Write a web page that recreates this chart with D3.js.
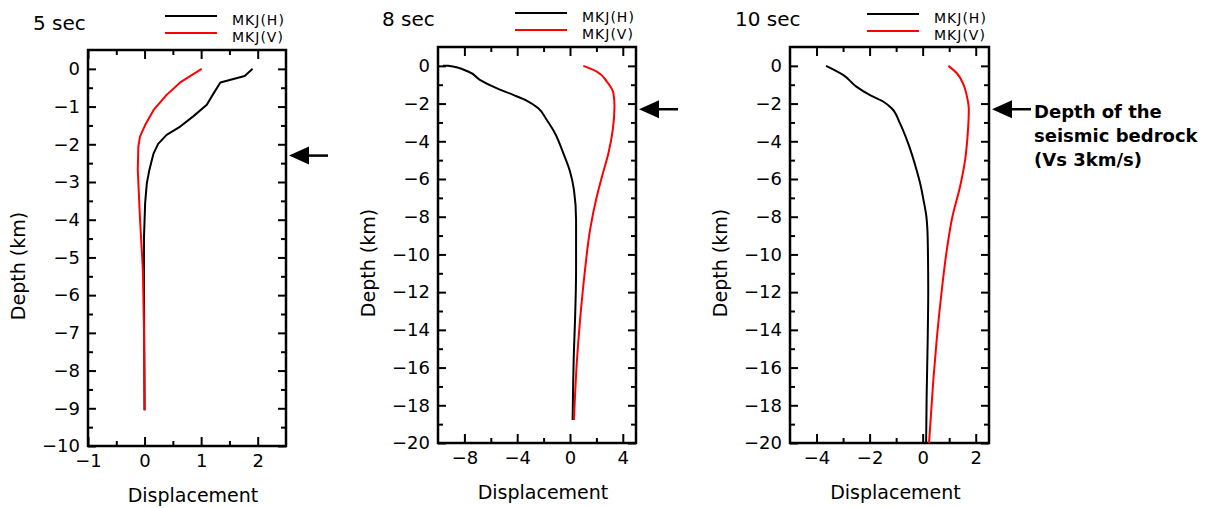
<!DOCTYPE html>
<html>
<head>
<meta charset="utf-8">
<script src="https://cdn.jsdelivr.net/npm/d3@7"></script>
<style>
  body { margin: 0; background: #fff; }
  svg text { font-family: "DejaVu Sans", sans-serif; fill: #000; }
</style>
</head>
<body>
<div id="chart"></div>
<script>
// displacement vs depth, [displacement, depth(km)]
const h5 = [[1.91,0],[1.77,-0.19],[1.34,-0.36],[1.22,-0.65],[1.10,-0.95],[0.86,-1.26],[0.63,-1.53],[0.39,-1.75],[0.24,-1.99],[0.16,-2.24],[0.13,-2.41],[0.085,-2.68],[0.04,-3.03],[0.01,-3.56],[-0.01,-4.45],[-0.01,-6],[0,-9.05]]
const v5 = [[1.01,0],[0.84,-0.16],[0.63,-0.36],[0.39,-0.69],[0.16,-1.09],[0.01,-1.49],[-0.08,-1.79],[-0.11,-2.06],[-0.12,-2.68],[-0.08,-4.0],[-0.03,-5.33],[-0.01,-6.92],[0,-9.05]]

const h8 = [[-9.62,0],[-9.24,0],[-7.72,-0.3],[-6.83,-0.74],[-5.57,-1.18],[-4.30,-1.54],[-3.29,-1.84],[-2.40,-2.25],[-1.77,-2.86],[-1.14,-3.57],[-0.51,-4.63],[0,-5.6],[0.30,-6.58],[0.46,-8.17],[0.46,-10.8],[0.38,-13.5],[0.30,-15.07],[0.2,-18.78]]
const v8 = [[1.01,0],[2.03,-0.3],[2.79,-0.83],[3.29,-1.45],[3.37,-2.16],[3.24,-3.40],[2.91,-4.63],[2.45,-5.8],[2.03,-6.93],[1.52,-8.7],[1.14,-10.8],[0.76,-13.5],[0.51,-15.8],[0.30,-18.78]]

const h10 = [[-3.64,0],[-3.0,-0.48],[-2.5,-1.1],[-2.0,-1.54],[-1.49,-1.89],[-1.17,-2.25],[-0.86,-3.04],[-0.55,-4.1],[-0.23,-5.52],[-0.1,-6.2],[0.03,-7.1],[0.14,-8.0],[0.19,-9.2],[0.21,-11.9],[0.19,-14.5],[0.15,-17.5],[0.13,-20]]
const v10 = [[0.97,0],[1.29,-0.39],[1.54,-1.0],[1.67,-1.63],[1.74,-2.33],[1.70,-3.57],[1.6,-4.99],[1.41,-6.4],[1.12,-8.0],[0.91,-9.76],[0.72,-11.9],[0.53,-14.5],[0.40,-16.7],[0.24,-20]]

const titles = ['5 sec', '8 sec', '10 sec']
const seriesNames = ['MKJ(H)', 'MKJ(V)']
const seriesColors = ['#000', '#ff0000']
const bedrockDepth = -2.3
const noteLines = ['Depth of the', 'seismic bedrock', '(Vs 3km/s)']

const xTicks5 = [-1, 0, 1, 2], xMinor5 = [-0.5, 0.5, 1.5]
const yTicks5 = d3.range(-10, 0.5, 1), yMinor5 = d3.range(-9.5, 0.5, 1)
const xTicks8 = [-8, -4, 0, 4], xMinor8 = [-6, -2, 2]
const yTicks8 = d3.range(-20, 1, 2), yMinor8 = d3.range(-19, 1, 2)
const xTicks10 = [-4, -2, 0, 2], xMinor10 = [-3, -1, 1]
const yTicks10 = d3.range(-20, 1, 2), yMinor10 = d3.range(-19, 1, 2)

const panels = [
  {title: titles[0], h: h5, v: v5, xd: [-1, 2.5], yd: [-10, 0.5], xt: xTicks5, xm: xMinor5, yt: yTicks5, ym: yMinor5,
   box: {l: 88, r: 286, t: 50, b: 446}, titleX: 33, titleY: 30, legX: 165, legY: 16, curve: d3.curveLinear},
  {title: titles[1], h: h8, v: v8, xd: [-10, 5], yd: [-20, 1], xt: xTicks8, xm: xMinor8, yt: yTicks8, ym: yMinor8,
   box: {l: 438, r: 636, t: 47, b: 443}, titleX: 382, titleY: 26, legX: 515, legY: 13, curve: d3.curveMonotoneY},
  {title: titles[2], h: h10, v: v10, xd: [-5, 2.5], yd: [-20, 1], xt: xTicks10, xm: xMinor10, yt: yTicks10, ym: yMinor10,
   box: {l: 790, r: 989, t: 47, b: 443}, titleX: 735, titleY: 26, legX: 867, legY: 14, curve: d3.curveMonotoneY}
]

const svg = d3.select('#chart').append('svg')
  .attr('width', 1213)
  .attr('height', 508)

panels.forEach((p, i) => drawPanel(p, i === panels.length - 1))

function drawPanel(p, withNote) {
  let {l, r, t, b} = p.box
  let x = d3.scaleLinear().domain(p.xd).range([l, r])
  let y = d3.scaleLinear().domain(p.yd).range([b, t])
  let g = svg.append('g')

  // axes: major ticks labelled, minor ticks bare, all pointing inward
  let fmt = d3.format('')
  let axes = [
    [d3.axisBottom(x).tickValues(p.xt).tickFormat(fmt).tickSize(-9), `translate(0,${b})`],
    [d3.axisBottom(x).tickValues(p.xm).tickFormat('').tickSize(-5), `translate(0,${b})`],
    [d3.axisTop(x).tickValues(p.xt).tickFormat('').tickSize(-9), `translate(0,${t})`],
    [d3.axisTop(x).tickValues(p.xm).tickFormat('').tickSize(-5), `translate(0,${t})`],
    [d3.axisLeft(y).tickValues(p.yt).tickFormat(fmt).tickSize(-8), `translate(${l},0)`],
    [d3.axisLeft(y).tickValues(p.ym).tickFormat('').tickSize(-5), `translate(${l},0)`],
    [d3.axisRight(y).tickValues(p.yt).tickFormat('').tickSize(-8), `translate(${r},0)`],
    [d3.axisRight(y).tickValues(p.ym).tickFormat('').tickSize(-5), `translate(${r},0)`]
  ]
  axes.forEach(([ax, tr]) => {
    let a = g.append('g').attr('transform', tr).call(ax.tickPadding(8))
    a.select('.domain').remove()
    a.selectAll('line').attr('stroke', '#000').attr('stroke-width', 2)
    a.selectAll('text').attr('font-size', 18).attr('font-family', '"DejaVu Sans", sans-serif').attr('fill', '#000')
  })

  g.append('rect')
    .attr('x', l).attr('y', t)
    .attr('width', r - l).attr('height', b - t)
    .attr('fill', 'none').attr('stroke', '#000').attr('stroke-width', 2.5)

  let line = d3.line().x(d => x(d[0])).y(d => y(d[1])).curve(p.curve)
  ;[p.h, p.v].forEach((s, k) => {
    g.append('path')
      .datum(s)
      .attr('d', line)
      .attr('fill', 'none')
      .attr('stroke', seriesColors[k])
      .attr('stroke-width', 2)
      .attr('stroke-linejoin', 'round')
  })

  // title + legend
  g.append('text').attr('x', p.titleX).attr('y', p.titleY).attr('font-size', 20).text(p.title)
  seriesNames.forEach((name, k) => {
    let ly = p.legY + k * 17
    g.append('line')
      .attr('x1', p.legX).attr('x2', p.legX + 52)
      .attr('y1', ly).attr('y2', ly)
      .attr('stroke', seriesColors[k]).attr('stroke-width', 2)
    g.append('text')
      .attr('x', p.legX + 67).attr('y', ly + 9)
      .attr('font-size', 14).attr('letter-spacing', 1)
      .text(name)
  })

  // axis labels
  g.append('text')
    .attr('x', (l + r) / 2 + 6).attr('y', b + 56)
    .attr('text-anchor', 'middle').attr('font-size', 19)
    .text('Displacement')
  g.append('text')
    .attr('transform', `translate(${l - 63},${(t + b) / 2 + 18}) rotate(-90)`)
    .attr('text-anchor', 'middle').attr('font-size', 19)
    .text('Depth (km)')

  // bedrock arrow
  let ay = y(bedrockDepth)
  let ax0 = r + 3
  g.append('path')
    .attr('d', `M ${ax0} ${ay} L ${ax0 + 20} ${ay - 9} L ${ax0 + 20} ${ay + 9} Z`)
    .attr('fill', '#000')
  g.append('line')
    .attr('x1', ax0 + 18).attr('x2', ax0 + 39)
    .attr('y1', ay).attr('y2', ay)
    .attr('stroke', '#000').attr('stroke-width', 2.5)

  if (withNote) {
    noteLines.forEach((s, k) => {
      g.append('text')
        .attr('x', ax0 + 42).attr('y', ay + 9 + k * 24)
        .attr('font-size', 18).attr('font-weight', 'bold')
        .text(s)
    })
  }
}
</script>
</body>
</html>
